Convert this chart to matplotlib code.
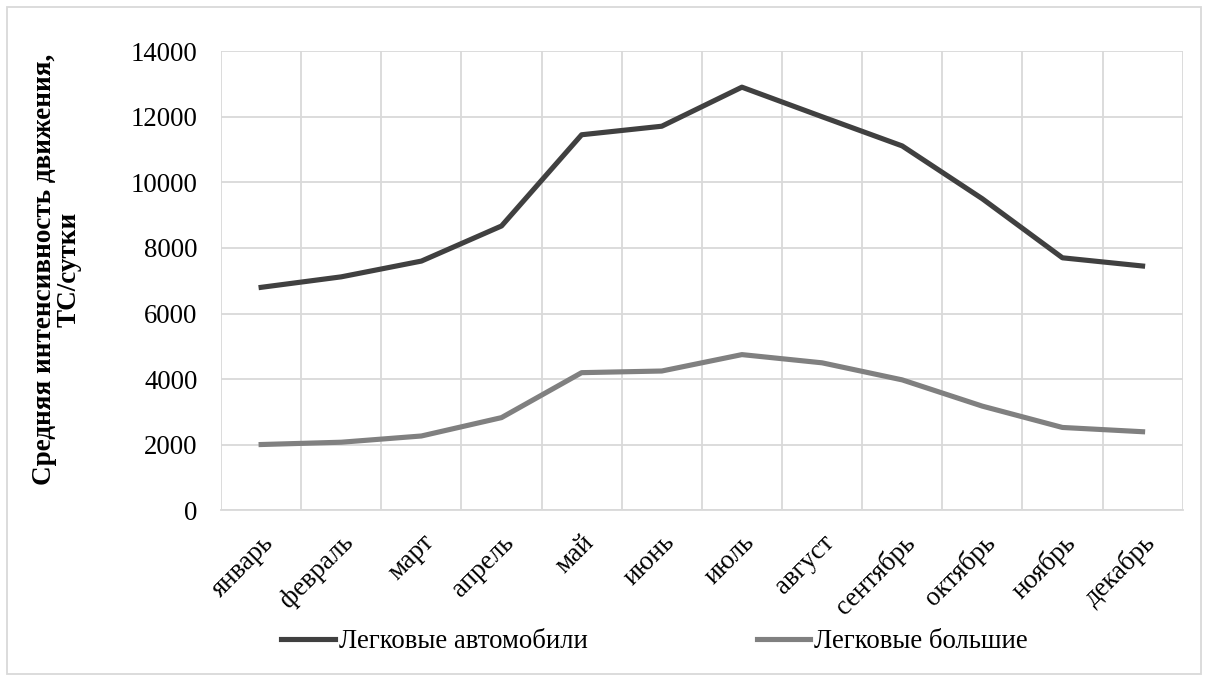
import matplotlib.pyplot as plt
from matplotlib.patches import Rectangle
import numpy as np

months = ['январь', 'февраль', 'март', 'апрель', 'май', 'июнь',
          'июль', 'август', 'сентябрь', 'октябрь', 'ноябрь', 'декабрь']
cars = [6800, 7120, 7600, 8670, 11450, 11710, 12900, 12000, 11110, 9500, 7700, 7450]
cars_big = [2010, 2080, 2270, 2830, 4200, 4250, 4750, 4500, 3980, 3180, 2530, 2400]

plt.rcParams['font.family'] = ['Liberation Serif', 'DejaVu Serif']
fs = 19.3

fig = plt.figure(figsize=(12.08, 6.81), dpi=100)
ax = fig.add_axes([0.183, 0.2504, 0.796, 0.6746])

x = np.arange(len(months))
ax.plot(x, cars, color='#404040', lw=3.7, label='Легковые автомобили')
ax.plot(x, cars_big, color='#808080', lw=3.7, label='Легковые большие')

ax.set_xlim(-0.5, len(months) - 0.5)
ax.set_ylim(0, 14000)
ax.set_yticks(range(0, 14001, 2000))
ax.set_yticklabels([str(v) for v in range(0, 14001, 2000)], fontsize=fs)
ax.set_xticks(x)
ax.set_xticklabels(months, fontsize=fs, rotation=45, ha='right', rotation_mode='anchor')
ax.set_xticks(np.arange(-0.5, len(months)), minor=True)

ax.tick_params(axis='both', which='both', length=0)
ax.tick_params(axis='y', pad=17)
ax.tick_params(axis='x', pad=14)

# Excel-style grid: horizontal at major ticks, vertical between categories
ax.grid(True, axis='y', color='#d9d9d9', lw=1.3)
ax.grid(True, axis='x', which='minor', color='#d9d9d9', lw=1.3)
ax.set_axisbelow(True)
for s in ['top', 'right', 'left']:
    ax.spines[s].set_visible(False)
ax.spines['bottom'].set_color('#d9d9d9')
ax.spines['bottom'].set_linewidth(1.3)

ax.set_ylabel('Средняя интенсивность движения,\nТС/сутки', fontsize=19.5,
              fontweight='bold', linespacing=0.95)
ax.yaxis.set_label_coords(-0.1455, 0.5256)

fig.legend(loc='center left', bbox_to_anchor=(268 / 1208, 1 - 642 / 681), ncol=2,
           frameon=False, fontsize=fs, borderpad=0, handlelength=2.0,
           handletextpad=0.15, columnspacing=6.3)

fig.patches.append(Rectangle((0.006, 0.011), 0.988, 0.978, transform=fig.transFigure,
                             fill=False, edgecolor='#d9d9d9', lw=1.3))

fig.savefig('out.png', dpi=100, facecolor='white')
